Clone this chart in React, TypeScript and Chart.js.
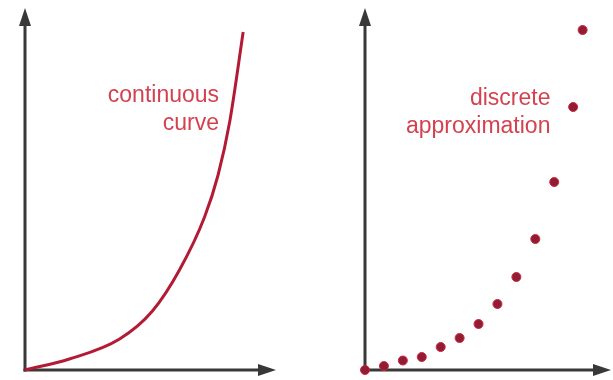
import React, { useEffect, useRef } from "react";
import { Chart, registerables } from "chart.js";

Chart.register(...registerables);

// Continuous curve (left panel)
const curveX = [0, 2.3, 4.9, 6.6, 8.0, 9.3, 10.0, 10.6, 11.3];
const curveY = [0, 1.1, 3.1, 5.9, 10.0, 15.3, 19.5, 24.8, 33.8];

// Discrete samples (right panel)
const sampleX = [0, 1, 2, 3, 4, 5, 6, 7, 8, 9, 10, 11, 11.5];
const sampleY = [0, 0.4, 0.95, 1.3, 2.3, 3.2, 4.6, 6.6, 9.3, 13.1, 18.8, 26.3, 34.0];

const leftLabel = ["continuous", "curve"];
const rightLabel = ["discrete", "approximation"];

const X_MAX = 13;
const Y_MAX = 36.2;

const AXIS_COLOR = "#383838";
const LABEL_COLOR = "#d4424f";
const CURVE_COLOR = "#b31b35";
const DOT_FILL = "#921c33";
const DOT_EDGE = "#c8283f";

type LabelSpec = { lines: string[]; x: number; y: number };

function arrowAxesPlugin(label: LabelSpec) {
  return {
    id: "arrowAxes",
    beforeDatasetsDraw(chart: any) {
      const { ctx, scales } = chart;
      const x0 = scales.x.getPixelForValue(0);
      const y0 = scales.y.getPixelForValue(0);
      const xEnd = scales.x.getPixelForValue(X_MAX);
      const yEnd = scales.y.getPixelForValue(Y_MAX);
      const headLen = 18;
      const headHalf = 6;
      ctx.save();
      ctx.strokeStyle = AXIS_COLOR;
      ctx.fillStyle = AXIS_COLOR;
      ctx.lineWidth = 3;
      ctx.lineCap = "butt";
      // vertical axis
      ctx.beginPath();
      ctx.moveTo(x0, y0 + 1.5);
      ctx.lineTo(x0, yEnd + headLen - 2);
      ctx.stroke();
      ctx.beginPath();
      ctx.moveTo(x0, yEnd);
      ctx.lineTo(x0 - headHalf, yEnd + headLen);
      ctx.lineTo(x0 + headHalf, yEnd + headLen);
      ctx.closePath();
      ctx.fill();
      // horizontal axis
      ctx.beginPath();
      ctx.moveTo(x0 - 1.5, y0);
      ctx.lineTo(xEnd - headLen + 2, y0);
      ctx.stroke();
      ctx.beginPath();
      ctx.moveTo(xEnd, y0);
      ctx.lineTo(xEnd - headLen, y0 - headHalf);
      ctx.lineTo(xEnd - headLen, y0 + headHalf);
      ctx.closePath();
      ctx.fill();
      ctx.restore();
    },
    afterDraw(chart: any) {
      const { ctx, scales } = chart;
      const px = scales.x.getPixelForValue(label.x);
      const py = scales.y.getPixelForValue(label.y);
      ctx.save();
      ctx.font = '23px "Liberation Sans", Arial, sans-serif';
      ctx.fillStyle = LABEL_COLOR;
      ctx.textAlign = "right";
      ctx.textBaseline = "alphabetic";
      label.lines.forEach((t, i) => ctx.fillText(t, px, py + i * 28));
      ctx.restore();
    },
  };
}

function baseScales() {
  return {
    x: { type: "linear" as const, min: 0, max: X_MAX, display: false },
    y: { type: "linear" as const, min: 0, max: Y_MAX, display: false },
  };
}

function Panel(props: {
  left: number;
  width: number;
  padding: { left: number; right: number; top: number; bottom: number };
  kind: "curve" | "dots";
}) {
  const ref = useRef<HTMLCanvasElement>(null);
  useEffect(() => {
    if (!ref.current) return;
    const isCurve = props.kind === "curve";
    const xs = isCurve ? curveX : sampleX;
    const ys = isCurve ? curveY : sampleY;
    const data = xs.map((x, i) => ({ x, y: ys[i] }));
    const label: LabelSpec = isCurve
      ? { lines: leftLabel, x: 10.05, y: 26.8 }
      : { lines: rightLabel, x: 9.8, y: 26.5 };
    const chart = new Chart(ref.current, {
      type: "line",
      data: {
        datasets: [
          {
            data,
            showLine: isCurve,
            borderColor: CURVE_COLOR,
            borderWidth: 3,
            cubicInterpolationMode: "monotone",
            pointRadius: isCurve ? 0 : 4.5,
            pointBackgroundColor: DOT_FILL,
            pointBorderColor: DOT_EDGE,
            pointBorderWidth: 1,
            clip: false as any,
          },
        ],
      },
      options: {
        responsive: false,
        animation: false,
        layout: { padding: props.padding, autoPadding: false },
        scales: baseScales(),
        plugins: { legend: { display: false }, tooltip: { enabled: false } },
        events: [],
      },
      plugins: [arrowAxesPlugin(label)],
    });
    return () => chart.destroy();
  }, []);
  return (
    <canvas
      ref={ref}
      width={props.width}
      height={380}
      style={{ position: "absolute", left: props.left, top: 0, width: props.width, height: 380 }}
    />
  );
}

export default function App() {
  return (
    <div style={{ position: "absolute", left: 0, top: 0, width: 613, height: 380, background: "#ffffff" }}>
      <Panel left={0} width={306} padding={{ left: 25, right: 30, top: 8, bottom: 10 }} kind="curve" />
      <Panel left={306} width={307} padding={{ left: 59, right: 2, top: 8, bottom: 10 }} kind="dots" />
    </div>
  );
}
